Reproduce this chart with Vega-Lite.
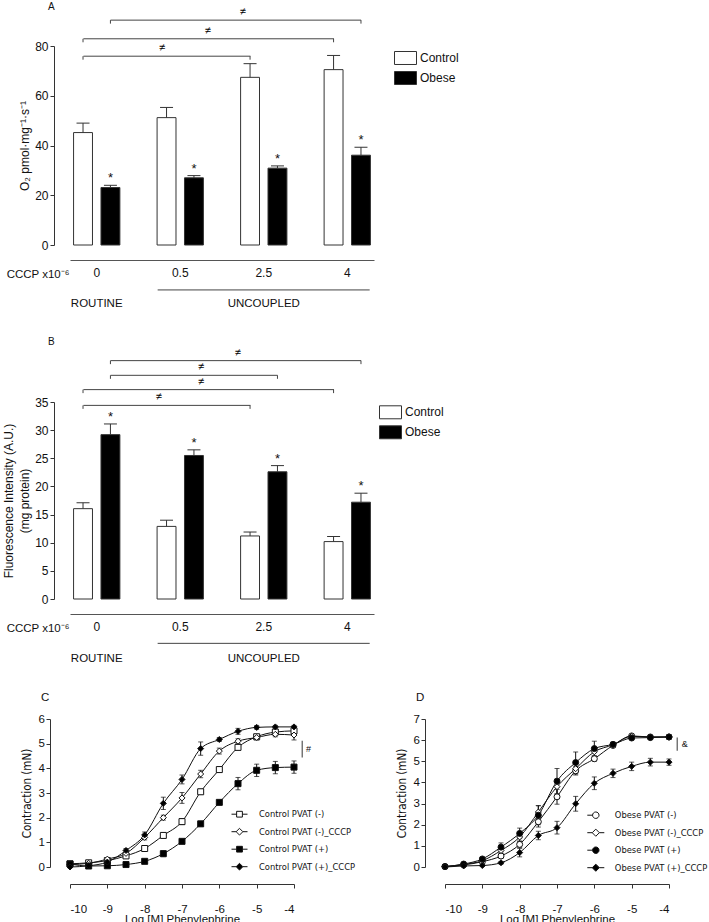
{
"$schema": "https://vega.github.io/schema/vega-lite/v6.json",
"padding": {"left": 2, "top": 2, "right": 0, "bottom": 1},
"datasets": {
"barsA": [
{"cccp":"0","group":"Control","mean":45.2,"hi":49.0},
{"cccp":"0","group":"Obese","mean":23.1,"hi":24.0},
{"cccp":"0.5","group":"Control","mean":51.2,"hi":55.3},
{"cccp":"0.5","group":"Obese","mean":27.0,"hi":27.9},
{"cccp":"2.5","group":"Control","mean":67.4,"hi":72.9},
{"cccp":"2.5","group":"Obese","mean":30.9,"hi":31.8},
{"cccp":"4","group":"Control","mean":70.5,"hi":76.2},
{"cccp":"4","group":"Obese","mean":36.1,"hi":39.3}
],
"barsB": [
{"cccp":"0","group":"Control","mean":16.05,"hi":17.1},
{"cccp":"0","group":"Obese","mean":29.2,"hi":31.1},
{"cccp":"0.5","group":"Control","mean":12.9,"hi":14.0},
{"cccp":"0.5","group":"Obese","mean":25.5,"hi":26.5},
{"cccp":"2.5","group":"Control","mean":11.2,"hi":11.9},
{"cccp":"2.5","group":"Obese","mean":22.6,"hi":23.7},
{"cccp":"4","group":"Control","mean":10.2,"hi":11.1},
{"cccp":"4","group":"Obese","mean":17.2,"hi":18.8}
],
"brA": [
{"from":"0","to":"2.5","side":"Control","level":75.9},
{"from":"0","to":"4","side":"Control","level":82.9},
{"from":"0","to":"4","side":"Obese","level":90.4}
],
"brB": [
{"from":"0","to":"2.5","side":"Control","level":34.4},
{"from":"0","to":"4","side":"Control","level":37.2},
{"from":"0","to":"2.5","side":"Obese","level":39.74},
{"from":"0","to":"4","side":"Obese","level":42.35}
],
"phase": [{"label":"ROUTINE","at":"0"},{"label":"UNCOUPLED","at":"2.5"}],
"curvesC": [
{"s":"Control PVAT (-)","x":-10,"y":0.13,"sem":0.05},
{"s":"Control PVAT (-)","x":-9.5,"y":0.17,"sem":0.04},
{"s":"Control PVAT (-)","x":-9,"y":0.26,"sem":0.05},
{"s":"Control PVAT (-)","x":-8.5,"y":0.45,"sem":0.05},
{"s":"Control PVAT (-)","x":-8,"y":0.75,"sem":0.06},
{"s":"Control PVAT (-)","x":-7.5,"y":1.28,"sem":0.1},
{"s":"Control PVAT (-)","x":-7,"y":1.84,"sem":0.12},
{"s":"Control PVAT (-)","x":-6.5,"y":3.05,"sem":0.1},
{"s":"Control PVAT (-)","x":-6,"y":3.95,"sem":0.1},
{"s":"Control PVAT (-)","x":-5.5,"y":4.85,"sem":0.1},
{"s":"Control PVAT (-)","x":-5,"y":5.28,"sem":0.1},
{"s":"Control PVAT (-)","x":-4.5,"y":5.47,"sem":0.1},
{"s":"Control PVAT (-)","x":-4,"y":5.52,"sem":0.12},
{"s":"Control PVAT (-)_CCCP","x":-10,"y":0.1,"sem":0.04},
{"s":"Control PVAT (-)_CCCP","x":-9.5,"y":0.15,"sem":0.04},
{"s":"Control PVAT (-)_CCCP","x":-9,"y":0.32,"sem":0.06},
{"s":"Control PVAT (-)_CCCP","x":-8.5,"y":0.55,"sem":0.06},
{"s":"Control PVAT (-)_CCCP","x":-8,"y":1.2,"sem":0.1},
{"s":"Control PVAT (-)_CCCP","x":-7.5,"y":2.0,"sem":0.1},
{"s":"Control PVAT (-)_CCCP","x":-7,"y":2.8,"sem":0.22},
{"s":"Control PVAT (-)_CCCP","x":-6.5,"y":3.77,"sem":0.15},
{"s":"Control PVAT (-)_CCCP","x":-6,"y":4.7,"sem":0.12},
{"s":"Control PVAT (-)_CCCP","x":-5.5,"y":5.1,"sem":0.1},
{"s":"Control PVAT (-)_CCCP","x":-5,"y":5.25,"sem":0.1},
{"s":"Control PVAT (-)_CCCP","x":-4.5,"y":5.38,"sem":0.1},
{"s":"Control PVAT (-)_CCCP","x":-4,"y":5.35,"sem":0.2},
{"s":"Control PVAT (+)","x":-10,"y":0.12,"sem":0.04},
{"s":"Control PVAT (+)","x":-9.5,"y":0.04,"sem":0.03},
{"s":"Control PVAT (+)","x":-9,"y":0.05,"sem":0.03},
{"s":"Control PVAT (+)","x":-8.5,"y":0.1,"sem":0.03},
{"s":"Control PVAT (+)","x":-8,"y":0.23,"sem":0.04},
{"s":"Control PVAT (+)","x":-7.5,"y":0.54,"sem":0.12},
{"s":"Control PVAT (+)","x":-7,"y":1.04,"sem":0.06},
{"s":"Control PVAT (+)","x":-6.5,"y":1.75,"sem":0.1},
{"s":"Control PVAT (+)","x":-6,"y":2.62,"sem":0.08},
{"s":"Control PVAT (+)","x":-5.5,"y":3.38,"sem":0.25},
{"s":"Control PVAT (+)","x":-5,"y":3.92,"sem":0.25},
{"s":"Control PVAT (+)","x":-4.5,"y":4.03,"sem":0.25},
{"s":"Control PVAT (+)","x":-4,"y":4.05,"sem":0.25},
{"s":"Control PVAT (+)_CCCP","x":-10,"y":0.0,"sem":0.03},
{"s":"Control PVAT (+)_CCCP","x":-9.5,"y":0.05,"sem":0.03},
{"s":"Control PVAT (+)_CCCP","x":-9,"y":0.2,"sem":0.04},
{"s":"Control PVAT (+)_CCCP","x":-8.5,"y":0.67,"sem":0.08},
{"s":"Control PVAT (+)_CCCP","x":-8,"y":1.3,"sem":0.12},
{"s":"Control PVAT (+)_CCCP","x":-7.5,"y":2.58,"sem":0.25},
{"s":"Control PVAT (+)_CCCP","x":-7,"y":3.55,"sem":0.18},
{"s":"Control PVAT (+)_CCCP","x":-6.5,"y":4.8,"sem":0.27},
{"s":"Control PVAT (+)_CCCP","x":-6,"y":5.17,"sem":0.08},
{"s":"Control PVAT (+)_CCCP","x":-5.5,"y":5.5,"sem":0.12},
{"s":"Control PVAT (+)_CCCP","x":-5,"y":5.66,"sem":0.08},
{"s":"Control PVAT (+)_CCCP","x":-4.5,"y":5.68,"sem":0.06},
{"s":"Control PVAT (+)_CCCP","x":-4,"y":5.68,"sem":0.06}
],
"curvesD": [
{"s":"Obese PVAT (-)","x":-10,"y":0.02,"sem":0.03},
{"s":"Obese PVAT (-)","x":-9.5,"y":0.1,"sem":0.04},
{"s":"Obese PVAT (-)","x":-9,"y":0.25,"sem":0.05},
{"s":"Obese PVAT (-)","x":-8.5,"y":0.52,"sem":0.1},
{"s":"Obese PVAT (-)","x":-8,"y":1.07,"sem":0.15},
{"s":"Obese PVAT (-)","x":-7.5,"y":2.14,"sem":0.25},
{"s":"Obese PVAT (-)","x":-7,"y":3.32,"sem":0.35},
{"s":"Obese PVAT (-)","x":-6.5,"y":4.55,"sem":0.2},
{"s":"Obese PVAT (-)","x":-6,"y":5.12,"sem":0.12},
{"s":"Obese PVAT (-)","x":-5.5,"y":5.75,"sem":0.1},
{"s":"Obese PVAT (-)","x":-5,"y":6.2,"sem":0.05},
{"s":"Obese PVAT (-)","x":-4.5,"y":6.15,"sem":0.05},
{"s":"Obese PVAT (-)","x":-4,"y":6.15,"sem":0.05},
{"s":"Obese PVAT (-)_CCCP","x":-10,"y":0.02,"sem":0.03},
{"s":"Obese PVAT (-)_CCCP","x":-9.5,"y":0.12,"sem":0.04},
{"s":"Obese PVAT (-)_CCCP","x":-9,"y":0.3,"sem":0.06},
{"s":"Obese PVAT (-)_CCCP","x":-8.5,"y":0.78,"sem":0.12},
{"s":"Obese PVAT (-)_CCCP","x":-8,"y":1.42,"sem":0.2},
{"s":"Obese PVAT (-)_CCCP","x":-7.5,"y":2.6,"sem":0.3},
{"s":"Obese PVAT (-)_CCCP","x":-7,"y":3.8,"sem":0.35},
{"s":"Obese PVAT (-)_CCCP","x":-6.5,"y":4.65,"sem":0.25},
{"s":"Obese PVAT (-)_CCCP","x":-6,"y":5.45,"sem":0.2},
{"s":"Obese PVAT (-)_CCCP","x":-5.5,"y":5.78,"sem":0.1},
{"s":"Obese PVAT (-)_CCCP","x":-5,"y":6.18,"sem":0.05},
{"s":"Obese PVAT (-)_CCCP","x":-4.5,"y":6.15,"sem":0.05},
{"s":"Obese PVAT (-)_CCCP","x":-4,"y":6.15,"sem":0.05},
{"s":"Obese PVAT (+)","x":-10,"y":0.02,"sem":0.03},
{"s":"Obese PVAT (+)","x":-9.5,"y":0.14,"sem":0.04},
{"s":"Obese PVAT (+)","x":-9,"y":0.38,"sem":0.06},
{"s":"Obese PVAT (+)","x":-8.5,"y":0.94,"sem":0.2},
{"s":"Obese PVAT (+)","x":-8,"y":1.59,"sem":0.25},
{"s":"Obese PVAT (+)","x":-7.5,"y":2.45,"sem":0.45},
{"s":"Obese PVAT (+)","x":-7,"y":4.06,"sem":0.6},
{"s":"Obese PVAT (+)","x":-6.5,"y":4.94,"sem":0.5},
{"s":"Obese PVAT (+)","x":-6,"y":5.6,"sem":0.35},
{"s":"Obese PVAT (+)","x":-5.5,"y":5.8,"sem":0.1},
{"s":"Obese PVAT (+)","x":-5,"y":6.1,"sem":0.06},
{"s":"Obese PVAT (+)","x":-4.5,"y":6.12,"sem":0.06},
{"s":"Obese PVAT (+)","x":-4,"y":6.15,"sem":0.1},
{"s":"Obese PVAT (+)_CCCP","x":-10,"y":0.0,"sem":0.03},
{"s":"Obese PVAT (+)_CCCP","x":-9.5,"y":0.05,"sem":0.03},
{"s":"Obese PVAT (+)_CCCP","x":-9,"y":0.07,"sem":0.04},
{"s":"Obese PVAT (+)_CCCP","x":-8.5,"y":0.2,"sem":0.06},
{"s":"Obese PVAT (+)_CCCP","x":-8,"y":0.68,"sem":0.2},
{"s":"Obese PVAT (+)_CCCP","x":-7.5,"y":1.49,"sem":0.2},
{"s":"Obese PVAT (+)_CCCP","x":-7,"y":1.86,"sem":0.3},
{"s":"Obese PVAT (+)_CCCP","x":-6.5,"y":2.99,"sem":0.35},
{"s":"Obese PVAT (+)_CCCP","x":-6,"y":3.96,"sem":0.3},
{"s":"Obese PVAT (+)_CCCP","x":-5.5,"y":4.43,"sem":0.2},
{"s":"Obese PVAT (+)_CCCP","x":-5,"y":4.76,"sem":0.2},
{"s":"Obese PVAT (+)_CCCP","x":-4.5,"y":4.96,"sem":0.18},
{"s":"Obese PVAT (+)_CCCP","x":-4,"y":4.96,"sem":0.15}
]
},
"concat": [
{
"width": 304, "height": 199,
"title": {"text": "A", "fontSize": 10, "dx": -22, "frame": "group", "offset": -6},
"layer": [
{"data": {"name": "barsA"}, "mark": {"type": "bar", "stroke": "#333", "strokeWidth": 1},
 "encoding": {
  "x": {"field": "cccp", "type": "nominal", "scale": {"domain": ["0","0.5","2.5","4"], "paddingInner": 0.36, "paddingOuter": 0},
        "axis": {"orient": "bottom", "offset": 15, "ticks": false, "tickSize": 0, "labelAngle": 0, "labelPadding": 7.5, "labelFontSize": 12, "domainColor": "#555", "title": "CCCP x10⁻⁶", "titleFontSize": 11.5, "titleX": -1, "titleY": 14.5, "titleAlign": "right", "titleBaseline": "middle", "titleAngle": 0}},
  "xOffset": {"field": "group", "type": "nominal", "scale": {"domain": ["Control","Obese"], "paddingInner": 0.31, "paddingOuter": 0.13}},
  "y": {"field": "mean", "type": "quantitative", "scale": {"domain": [0, 80], "nice": false},
        "axis": {"values": [0,20,40,60,80], "offset": 16, "tickSize": 4, "labelPadding": 2, "labelFontSize": 12, "title": "O₂ pmol·mg⁻¹·s⁻¹", "titleFontSize": 12, "titlePadding": 3}},
  "fill": {"field": "group", "type": "nominal", "scale": {"domain": ["Control","Obese"], "range": ["#ffffff","#000000"]},
        "legend": {"title": null, "orient": "none", "legendX": 324, "legendY": 0.5, "symbolType": "M-1,-0.59H1V0.59H-1Z", "symbolSize": 484, "symbolStrokeColor": "#333", "symbolStrokeWidth": 1, "symbolOpacity": 1, "labelFontSize": 12, "labelOffset": 3, "rowPadding": -2}}
 }},
{"data": {"name": "barsA"}, "mark": {"type": "rule", "color": "#333"},
 "encoding": {"x": {"field": "cccp", "type": "nominal", "axis": {"orient": "bottom", "offset": 15, "ticks": false, "tickSize": 0, "labelAngle": 0, "labelPadding": 7.5, "labelFontSize": 12, "domainColor": "#555", "title": "CCCP x10⁻⁶", "titleFontSize": 11.5, "titleX": -1, "titleY": 14.5, "titleAlign": "right", "titleBaseline": "middle", "titleAngle": 0}}, "xOffset": {"field": "group", "type": "nominal"}, "y": {"field": "mean", "type": "quantitative", "axis": {"values": [0,20,40,60,80], "offset": 16, "tickSize": 4, "labelPadding": 2, "labelFontSize": 12, "title": "O₂ pmol·mg⁻¹·s⁻¹", "titleFontSize": 12, "titlePadding": 3}}, "y2": {"field": "hi"}}},
{"data": {"name": "barsA"}, "mark": {"type": "tick", "orient": "horizontal", "size": 13, "thickness": 1, "color": "#333", "opacity": 1},
 "encoding": {"x": {"field": "cccp", "type": "nominal", "axis": {"orient": "bottom", "offset": 15, "ticks": false, "tickSize": 0, "labelAngle": 0, "labelPadding": 7.5, "labelFontSize": 12, "domainColor": "#555", "title": "CCCP x10⁻⁶", "titleFontSize": 11.5, "titleX": -1, "titleY": 14.5, "titleAlign": "right", "titleBaseline": "middle", "titleAngle": 0}}, "xOffset": {"field": "group", "type": "nominal"}, "y": {"field": "hi", "type": "quantitative", "axis": {"values": [0,20,40,60,80], "offset": 16, "tickSize": 4, "labelPadding": 2, "labelFontSize": 12, "title": "O₂ pmol·mg⁻¹·s⁻¹", "titleFontSize": 12, "titlePadding": 3}}}},
{"data": {"name": "barsA"}, "transform": [{"filter": "datum.group === 'Obese'"}], "mark": {"type": "text", "text": "*", "fontSize": 13, "baseline": "bottom", "color": "#111"},
 "encoding": {"x": {"field": "cccp", "type": "nominal", "axis": {"orient": "bottom", "offset": 15, "ticks": false, "tickSize": 0, "labelAngle": 0, "labelPadding": 7.5, "labelFontSize": 12, "domainColor": "#555", "title": "CCCP x10⁻⁶", "titleFontSize": 11.5, "titleX": -1, "titleY": 14.5, "titleAlign": "right", "titleBaseline": "middle", "titleAngle": 0}}, "xOffset": {"field": "group", "type": "nominal"}, "y": {"field": "hi", "type": "quantitative", "axis": {"values": [0,20,40,60,80], "offset": 16, "tickSize": 4, "labelPadding": 2, "labelFontSize": 12, "title": "O₂ pmol·mg⁻¹·s⁻¹", "titleFontSize": 12, "titlePadding": 3}}}},
{"data": {"name": "brA"}, "transform": [{"filter": "datum.side === 'Control'"}], "mark": {"type": "rule", "color": "#444", "xOffset": -13.3, "x2Offset": -13.3},
 "encoding": {"x": {"field": "from", "type": "nominal", "axis": {"orient": "bottom", "offset": 15, "ticks": false, "tickSize": 0, "labelAngle": 0, "labelPadding": 7.5, "labelFontSize": 12, "domainColor": "#555", "title": "CCCP x10⁻⁶", "titleFontSize": 11.5, "titleX": -1, "titleY": 14.5, "titleAlign": "right", "titleBaseline": "middle", "titleAngle": 0}}, "x2": {"field": "to"}, "y": {"field": "level", "type": "quantitative", "axis": {"values": [0,20,40,60,80], "offset": 16, "tickSize": 4, "labelPadding": 2, "labelFontSize": 12, "title": "O₂ pmol·mg⁻¹·s⁻¹", "titleFontSize": 12, "titlePadding": 3}}}},
{"data": {"name": "brA"}, "transform": [{"filter": "datum.side === 'Obese'"}], "mark": {"type": "rule", "color": "#444", "xOffset": 13.8, "x2Offset": 13.8},
 "encoding": {"x": {"field": "from", "type": "nominal", "axis": {"orient": "bottom", "offset": 15, "ticks": false, "tickSize": 0, "labelAngle": 0, "labelPadding": 7.5, "labelFontSize": 12, "domainColor": "#555", "title": "CCCP x10⁻⁶", "titleFontSize": 11.5, "titleX": -1, "titleY": 14.5, "titleAlign": "right", "titleBaseline": "middle", "titleAngle": 0}}, "x2": {"field": "to"}, "y": {"field": "level", "type": "quantitative", "axis": {"values": [0,20,40,60,80], "offset": 16, "tickSize": 4, "labelPadding": 2, "labelFontSize": 12, "title": "O₂ pmol·mg⁻¹·s⁻¹", "titleFontSize": 12, "titlePadding": 3}}}},
{"data": {"name": "brA"}, "transform": [{"fold": ["from","to"], "as": ["end","pos"]}], "mark": {"type": "rule", "color": "#444", "y2Offset": 3.5},
 "encoding": {"x": {"field": "pos", "type": "nominal", "axis": {"orient": "bottom", "offset": 15, "ticks": false, "tickSize": 0, "labelAngle": 0, "labelPadding": 7.5, "labelFontSize": 12, "domainColor": "#555", "title": "CCCP x10⁻⁶", "titleFontSize": 11.5, "titleX": -1, "titleY": 14.5, "titleAlign": "right", "titleBaseline": "middle", "titleAngle": 0}}, "xOffset": {"field": "side", "type": "nominal"}, "y": {"field": "level", "type": "quantitative", "axis": {"values": [0,20,40,60,80], "offset": 16, "tickSize": 4, "labelPadding": 2, "labelFontSize": 12, "title": "O₂ pmol·mg⁻¹·s⁻¹", "titleFontSize": 12, "titlePadding": 3}}, "y2": {"field": "level"}}},
{"data": {"values": [{}]}, "mark": {"type": "text", "text": "≠", "fontSize": 11, "baseline": "alphabetic", "yOffset": -5, "xOffset": -18.3},
 "encoding": {"x": {"datum": "0.5", "type": "nominal", "axis": {"orient": "bottom", "offset": 15, "ticks": false, "tickSize": 0, "labelAngle": 0, "labelPadding": 7.5, "labelFontSize": 12, "domainColor": "#555", "title": "CCCP x10⁻⁶", "titleFontSize": 11.5, "titleX": -1, "titleY": 14.5, "titleAlign": "right", "titleBaseline": "middle", "titleAngle": 0}}, "y": {"datum": 75.9, "type": "quantitative", "axis": {"values": [0,20,40,60,80], "offset": 16, "tickSize": 4, "labelPadding": 2, "labelFontSize": 12, "title": "O₂ pmol·mg⁻¹·s⁻¹", "titleFontSize": 12, "titlePadding": 3}}}},
{"data": {"values": [{}]}, "mark": {"type": "text", "text": "≠", "fontSize": 11, "baseline": "alphabetic", "yOffset": -5, "xOffset": 27.4},
 "encoding": {"x": {"datum": "0.5", "type": "nominal", "axis": {"orient": "bottom", "offset": 15, "ticks": false, "tickSize": 0, "labelAngle": 0, "labelPadding": 7.5, "labelFontSize": 12, "domainColor": "#555", "title": "CCCP x10⁻⁶", "titleFontSize": 11.5, "titleX": -1, "titleY": 14.5, "titleAlign": "right", "titleBaseline": "middle", "titleAngle": 0}}, "y": {"datum": 82.9, "type": "quantitative", "axis": {"values": [0,20,40,60,80], "offset": 16, "tickSize": 4, "labelPadding": 2, "labelFontSize": 12, "title": "O₂ pmol·mg⁻¹·s⁻¹", "titleFontSize": 12, "titlePadding": 3}}}},
{"data": {"values": [{}]}, "mark": {"type": "text", "text": "≠", "fontSize": 11, "baseline": "alphabetic", "yOffset": -5, "xOffset": -21},
 "encoding": {"x": {"datum": "2.5", "type": "nominal", "axis": {"orient": "bottom", "offset": 15, "ticks": false, "tickSize": 0, "labelAngle": 0, "labelPadding": 7.5, "labelFontSize": 12, "domainColor": "#555", "title": "CCCP x10⁻⁶", "titleFontSize": 11.5, "titleX": -1, "titleY": 14.5, "titleAlign": "right", "titleBaseline": "middle", "titleAngle": 0}}, "y": {"datum": 90.4, "type": "quantitative", "axis": {"values": [0,20,40,60,80], "offset": 16, "tickSize": 4, "labelPadding": 2, "labelFontSize": 12, "title": "O₂ pmol·mg⁻¹·s⁻¹", "titleFontSize": 12, "titlePadding": 3}}}},
{"data": {"values": [{}]}, "mark": {"type": "rule", "color": "#444", "xOffset": -22.6, "x2Offset": 22.4},
 "encoding": {"x": {"datum": "0.5", "type": "nominal", "axis": {"orient": "bottom", "offset": 15, "ticks": false, "tickSize": 0, "labelAngle": 0, "labelPadding": 7.5, "labelFontSize": 12, "domainColor": "#555", "title": "CCCP x10⁻⁶", "titleFontSize": 11.5, "titleX": -1, "titleY": 14.5, "titleAlign": "right", "titleBaseline": "middle", "titleAngle": 0}}, "x2": {"datum": "4"}, "y": {"datum": -18.06, "type": "quantitative", "axis": {"values": [0,20,40,60,80], "offset": 16, "tickSize": 4, "labelPadding": 2, "labelFontSize": 12, "title": "O₂ pmol·mg⁻¹·s⁻¹", "titleFontSize": 12, "titlePadding": 3}}}},
{"data": {"name": "phase"}, "mark": {"type": "text", "fontSize": 11.5, "baseline": "middle", "color": "#111"},
 "encoding": {"x": {"field": "at", "type": "nominal", "axis": {"orient": "bottom", "offset": 15, "ticks": false, "tickSize": 0, "labelAngle": 0, "labelPadding": 7.5, "labelFontSize": 12, "domainColor": "#555", "title": "CCCP x10⁻⁶", "titleFontSize": 11.5, "titleX": -1, "titleY": 14.5, "titleAlign": "right", "titleBaseline": "middle", "titleAngle": 0}}, "y": {"datum": -23.7, "type": "quantitative", "axis": {"values": [0,20,40,60,80], "offset": 16, "tickSize": 4, "labelPadding": 2, "labelFontSize": 12, "title": "O₂ pmol·mg⁻¹·s⁻¹", "titleFontSize": 12, "titlePadding": 3}}, "text": {"field": "label"}}}
]
},
{
"width": 304, "height": 197,
"title": {"text": "B", "fontSize": 10, "dx": -22, "frame": "group", "offset": 0},
"layer": [
{"data": {"name": "barsB"}, "mark": {"type": "bar", "stroke": "#333", "strokeWidth": 1},
 "encoding": {
  "x": {"field": "cccp", "type": "nominal", "scale": {"domain": ["0","0.5","2.5","4"], "paddingInner": 0.36, "paddingOuter": 0},
        "axis": {"orient": "bottom", "offset": 15, "ticks": false, "tickSize": 0, "labelAngle": 0, "labelPadding": 7.5, "labelFontSize": 12, "domainColor": "#555", "title": "CCCP x10⁻⁶", "titleFontSize": 11.5, "titleX": -1, "titleY": 14.5, "titleAlign": "right", "titleBaseline": "middle", "titleAngle": 0}},
  "xOffset": {"field": "group", "type": "nominal", "scale": {"domain": ["Control","Obese"], "paddingInner": 0.31, "paddingOuter": 0.13}},
  "y": {"field": "mean", "type": "quantitative", "scale": {"domain": [0, 35], "nice": false},
        "axis": {"values": [0,5,10,15,20,25,30,35], "offset": 16, "tickSize": 4, "labelPadding": 2, "labelFontSize": 12, "title": ["Fluorescence Intensity (A.U.)", "(mg protein)"], "titleFontSize": 12, "titleLineHeight": 16, "titlePadding": 3}},
  "fill": {"field": "group", "type": "nominal", "scale": {"domain": ["Control","Obese"], "range": ["#ffffff","#000000"]},
        "legend": {"title": null, "orient": "none", "legendX": 309, "legendY": -1.2, "symbolType": "M-1,-0.59H1V0.59H-1Z", "symbolSize": 484, "symbolStrokeColor": "#333", "symbolStrokeWidth": 1, "symbolOpacity": 1, "labelFontSize": 12, "labelOffset": 3, "rowPadding": -2}}
 }},
{"data": {"name": "barsB"}, "mark": {"type": "rule", "color": "#333"},
 "encoding": {"x": {"field": "cccp", "type": "nominal", "axis": {"orient": "bottom", "offset": 15, "ticks": false, "tickSize": 0, "labelAngle": 0, "labelPadding": 7.5, "labelFontSize": 12, "domainColor": "#555", "title": "CCCP x10⁻⁶", "titleFontSize": 11.5, "titleX": -1, "titleY": 14.5, "titleAlign": "right", "titleBaseline": "middle", "titleAngle": 0}}, "xOffset": {"field": "group", "type": "nominal"}, "y": {"field": "mean", "type": "quantitative", "axis": {"values": [0,5,10,15,20,25,30,35], "offset": 16, "tickSize": 4, "labelPadding": 2, "labelFontSize": 12, "title": ["Fluorescence Intensity (A.U.)", "(mg protein)"], "titleFontSize": 12, "titleLineHeight": 16, "titlePadding": 3}}, "y2": {"field": "hi"}}},
{"data": {"name": "barsB"}, "mark": {"type": "tick", "orient": "horizontal", "size": 13, "thickness": 1, "color": "#333", "opacity": 1},
 "encoding": {"x": {"field": "cccp", "type": "nominal", "axis": {"orient": "bottom", "offset": 15, "ticks": false, "tickSize": 0, "labelAngle": 0, "labelPadding": 7.5, "labelFontSize": 12, "domainColor": "#555", "title": "CCCP x10⁻⁶", "titleFontSize": 11.5, "titleX": -1, "titleY": 14.5, "titleAlign": "right", "titleBaseline": "middle", "titleAngle": 0}}, "xOffset": {"field": "group", "type": "nominal"}, "y": {"field": "hi", "type": "quantitative", "axis": {"values": [0,5,10,15,20,25,30,35], "offset": 16, "tickSize": 4, "labelPadding": 2, "labelFontSize": 12, "title": ["Fluorescence Intensity (A.U.)", "(mg protein)"], "titleFontSize": 12, "titleLineHeight": 16, "titlePadding": 3}}}},
{"data": {"name": "barsB"}, "transform": [{"filter": "datum.group === 'Obese'"}], "mark": {"type": "text", "text": "*", "fontSize": 13, "baseline": "bottom", "color": "#111"},
 "encoding": {"x": {"field": "cccp", "type": "nominal", "axis": {"orient": "bottom", "offset": 15, "ticks": false, "tickSize": 0, "labelAngle": 0, "labelPadding": 7.5, "labelFontSize": 12, "domainColor": "#555", "title": "CCCP x10⁻⁶", "titleFontSize": 11.5, "titleX": -1, "titleY": 14.5, "titleAlign": "right", "titleBaseline": "middle", "titleAngle": 0}}, "xOffset": {"field": "group", "type": "nominal"}, "y": {"field": "hi", "type": "quantitative", "axis": {"values": [0,5,10,15,20,25,30,35], "offset": 16, "tickSize": 4, "labelPadding": 2, "labelFontSize": 12, "title": ["Fluorescence Intensity (A.U.)", "(mg protein)"], "titleFontSize": 12, "titleLineHeight": 16, "titlePadding": 3}}}},
{"data": {"name": "brB"}, "transform": [{"filter": "datum.side === 'Control'"}], "mark": {"type": "rule", "color": "#444", "xOffset": -13.3, "x2Offset": -13.3},
 "encoding": {"x": {"field": "from", "type": "nominal", "axis": {"orient": "bottom", "offset": 15, "ticks": false, "tickSize": 0, "labelAngle": 0, "labelPadding": 7.5, "labelFontSize": 12, "domainColor": "#555", "title": "CCCP x10⁻⁶", "titleFontSize": 11.5, "titleX": -1, "titleY": 14.5, "titleAlign": "right", "titleBaseline": "middle", "titleAngle": 0}}, "x2": {"field": "to"}, "y": {"field": "level", "type": "quantitative", "axis": {"values": [0,5,10,15,20,25,30,35], "offset": 16, "tickSize": 4, "labelPadding": 2, "labelFontSize": 12, "title": ["Fluorescence Intensity (A.U.)", "(mg protein)"], "titleFontSize": 12, "titleLineHeight": 16, "titlePadding": 3}}}},
{"data": {"name": "brB"}, "transform": [{"filter": "datum.side === 'Obese'"}], "mark": {"type": "rule", "color": "#444", "xOffset": 13.8, "x2Offset": 13.8},
 "encoding": {"x": {"field": "from", "type": "nominal", "axis": {"orient": "bottom", "offset": 15, "ticks": false, "tickSize": 0, "labelAngle": 0, "labelPadding": 7.5, "labelFontSize": 12, "domainColor": "#555", "title": "CCCP x10⁻⁶", "titleFontSize": 11.5, "titleX": -1, "titleY": 14.5, "titleAlign": "right", "titleBaseline": "middle", "titleAngle": 0}}, "x2": {"field": "to"}, "y": {"field": "level", "type": "quantitative", "axis": {"values": [0,5,10,15,20,25,30,35], "offset": 16, "tickSize": 4, "labelPadding": 2, "labelFontSize": 12, "title": ["Fluorescence Intensity (A.U.)", "(mg protein)"], "titleFontSize": 12, "titleLineHeight": 16, "titlePadding": 3}}}},
{"data": {"name": "brB"}, "transform": [{"fold": ["from","to"], "as": ["end","pos"]}], "mark": {"type": "rule", "color": "#444", "y2Offset": 3.5},
 "encoding": {"x": {"field": "pos", "type": "nominal", "axis": {"orient": "bottom", "offset": 15, "ticks": false, "tickSize": 0, "labelAngle": 0, "labelPadding": 7.5, "labelFontSize": 12, "domainColor": "#555", "title": "CCCP x10⁻⁶", "titleFontSize": 11.5, "titleX": -1, "titleY": 14.5, "titleAlign": "right", "titleBaseline": "middle", "titleAngle": 0}}, "xOffset": {"field": "side", "type": "nominal"}, "y": {"field": "level", "type": "quantitative", "axis": {"values": [0,5,10,15,20,25,30,35], "offset": 16, "tickSize": 4, "labelPadding": 2, "labelFontSize": 12, "title": ["Fluorescence Intensity (A.U.)", "(mg protein)"], "titleFontSize": 12, "titleLineHeight": 16, "titlePadding": 3}}, "y2": {"field": "level"}}},
{"data": {"values": [{}]}, "mark": {"type": "text", "text": "≠", "fontSize": 11, "baseline": "alphabetic", "yOffset": -5, "xOffset": -21.6},
 "encoding": {"x": {"datum": "0.5", "type": "nominal", "axis": {"orient": "bottom", "offset": 15, "ticks": false, "tickSize": 0, "labelAngle": 0, "labelPadding": 7.5, "labelFontSize": 12, "domainColor": "#555", "title": "CCCP x10⁻⁶", "titleFontSize": 11.5, "titleX": -1, "titleY": 14.5, "titleAlign": "right", "titleBaseline": "middle", "titleAngle": 0}}, "y": {"datum": 34.4, "type": "quantitative", "axis": {"values": [0,5,10,15,20,25,30,35], "offset": 16, "tickSize": 4, "labelPadding": 2, "labelFontSize": 12, "title": ["Fluorescence Intensity (A.U.)", "(mg protein)"], "titleFontSize": 12, "titleLineHeight": 16, "titlePadding": 3}}}},
{"data": {"values": [{}]}, "mark": {"type": "text", "text": "≠", "fontSize": 11, "baseline": "alphabetic", "yOffset": -5, "xOffset": 20.7},
 "encoding": {"x": {"datum": "0.5", "type": "nominal", "axis": {"orient": "bottom", "offset": 15, "ticks": false, "tickSize": 0, "labelAngle": 0, "labelPadding": 7.5, "labelFontSize": 12, "domainColor": "#555", "title": "CCCP x10⁻⁶", "titleFontSize": 11.5, "titleX": -1, "titleY": 14.5, "titleAlign": "right", "titleBaseline": "middle", "titleAngle": 0}}, "y": {"datum": 37.2, "type": "quantitative", "axis": {"values": [0,5,10,15,20,25,30,35], "offset": 16, "tickSize": 4, "labelPadding": 2, "labelFontSize": 12, "title": ["Fluorescence Intensity (A.U.)", "(mg protein)"], "titleFontSize": 12, "titleLineHeight": 16, "titlePadding": 3}}}},
{"data": {"values": [{}]}, "mark": {"type": "text", "text": "≠", "fontSize": 11, "baseline": "alphabetic", "yOffset": -5, "xOffset": 20.7},
 "encoding": {"x": {"datum": "0.5", "type": "nominal", "axis": {"orient": "bottom", "offset": 15, "ticks": false, "tickSize": 0, "labelAngle": 0, "labelPadding": 7.5, "labelFontSize": 12, "domainColor": "#555", "title": "CCCP x10⁻⁶", "titleFontSize": 11.5, "titleX": -1, "titleY": 14.5, "titleAlign": "right", "titleBaseline": "middle", "titleAngle": 0}}, "y": {"datum": 39.74, "type": "quantitative", "axis": {"values": [0,5,10,15,20,25,30,35], "offset": 16, "tickSize": 4, "labelPadding": 2, "labelFontSize": 12, "title": ["Fluorescence Intensity (A.U.)", "(mg protein)"], "titleFontSize": 12, "titleLineHeight": 16, "titlePadding": 3}}}},
{"data": {"values": [{}]}, "mark": {"type": "text", "text": "≠", "fontSize": 11, "baseline": "alphabetic", "yOffset": -5, "xOffset": -26},
 "encoding": {"x": {"datum": "2.5", "type": "nominal", "axis": {"orient": "bottom", "offset": 15, "ticks": false, "tickSize": 0, "labelAngle": 0, "labelPadding": 7.5, "labelFontSize": 12, "domainColor": "#555", "title": "CCCP x10⁻⁶", "titleFontSize": 11.5, "titleX": -1, "titleY": 14.5, "titleAlign": "right", "titleBaseline": "middle", "titleAngle": 0}}, "y": {"datum": 42.35, "type": "quantitative", "axis": {"values": [0,5,10,15,20,25,30,35], "offset": 16, "tickSize": 4, "labelPadding": 2, "labelFontSize": 12, "title": ["Fluorescence Intensity (A.U.)", "(mg protein)"], "titleFontSize": 12, "titleLineHeight": 16, "titlePadding": 3}}}},
{"data": {"values": [{}]}, "mark": {"type": "rule", "color": "#444", "xOffset": -22.6, "x2Offset": 22.4},
 "encoding": {"x": {"datum": "0.5", "type": "nominal", "axis": {"orient": "bottom", "offset": 15, "ticks": false, "tickSize": 0, "labelAngle": 0, "labelPadding": 7.5, "labelFontSize": 12, "domainColor": "#555", "title": "CCCP x10⁻⁶", "titleFontSize": 11.5, "titleX": -1, "titleY": 14.5, "titleAlign": "right", "titleBaseline": "middle", "titleAngle": 0}}, "x2": {"datum": "4"}, "y": {"datum": -7.88, "type": "quantitative", "axis": {"values": [0,5,10,15,20,25,30,35], "offset": 16, "tickSize": 4, "labelPadding": 2, "labelFontSize": 12, "title": ["Fluorescence Intensity (A.U.)", "(mg protein)"], "titleFontSize": 12, "titleLineHeight": 16, "titlePadding": 3}}}},
{"data": {"name": "phase"}, "mark": {"type": "text", "fontSize": 11.5, "baseline": "middle", "color": "#111"},
 "encoding": {"x": {"field": "at", "type": "nominal", "axis": {"orient": "bottom", "offset": 15, "ticks": false, "tickSize": 0, "labelAngle": 0, "labelPadding": 7.5, "labelFontSize": 12, "domainColor": "#555", "title": "CCCP x10⁻⁶", "titleFontSize": 11.5, "titleX": -1, "titleY": 14.5, "titleAlign": "right", "titleBaseline": "middle", "titleAngle": 0}}, "y": {"datum": -10.6, "type": "quantitative", "axis": {"values": [0,5,10,15,20,25,30,35], "offset": 16, "tickSize": 4, "labelPadding": 2, "labelFontSize": 12, "title": ["Fluorescence Intensity (A.U.)", "(mg protein)"], "titleFontSize": 12, "titleLineHeight": 16, "titlePadding": 3}}, "text": {"field": "label"}}}
]
},
{
"hconcat": [
{
"width": 224, "height": 148,
"title": {"text": "C", "fontSize": 11.5, "dx": -29, "frame": "group", "offset": 10},
"data": {"name": "curvesC"},
"layer": [
{"mark": {"type": "line", "interpolate": "monotone", "color": "#111", "strokeWidth": 1},
 "encoding": {
  "x": {"field": "x", "type": "quantitative", "scale": {"domain": [-10, -4], "nice": false, "zero": false},
        "axis": {"values": [-10,-9,-8,-7,-6,-5,-4], "labelExpr": "'' + datum.value", "offset": 17, "tickSize": 4, "labelPadding": 15, "labelFontSize": 11.5, "title": "Log [M] Phenylephrine", "titleFontSize": 11.5, "titlePadding": -1}},
  "y": {"field": "y", "type": "quantitative", "scale": {"domain": [0, 6], "nice": false},
        "axis": {"values": [0,1,2,3,4,5,6], "offset": 20, "tickSize": 4, "labelPadding": 1.5, "labelFontSize": 11.5, "title": "Contraction (mN)", "titleFont": "Liberation Sans Narrow, DejaVu Sans Condensed, sans-serif", "titleFontSize": 11.5, "titlePadding": 6}},
  "detail": {"field": "s"}}},
{"mark": {"type": "errorbar", "ticks": {"size": 5}, "color": "#111"},
 "encoding": {
  "x": {"field": "x", "type": "quantitative", "axis": {"values": [-10,-9,-8,-7,-6,-5,-4], "labelExpr": "'' + datum.value", "offset": 17, "tickSize": 4, "labelPadding": 15, "labelFontSize": 11.5, "title": "Log [M] Phenylephrine", "titleFontSize": 11.5, "titlePadding": -1}},
  "y": {"field": "y", "type": "quantitative", "axis": {"values": [0,1,2,3,4,5,6], "offset": 20, "tickSize": 4, "labelPadding": 1.5, "labelFontSize": 11.5, "title": "Contraction (mN)", "titleFont": "Liberation Sans Narrow, DejaVu Sans Condensed, sans-serif", "titleFontSize": 11.5, "titlePadding": 6}},
  "yError": {"field": "sem"}}},
{"mark": {"type": "point", "filled": true, "stroke": "#111", "strokeWidth": 1, "size": 36, "opacity": 1},
 "encoding": {
  "x": {"field": "x", "type": "quantitative", "axis": {"values": [-10,-9,-8,-7,-6,-5,-4], "labelExpr": "'' + datum.value", "offset": 17, "tickSize": 4, "labelPadding": 15, "labelFontSize": 11.5, "title": "Log [M] Phenylephrine", "titleFontSize": 11.5, "titlePadding": -1}},
  "y": {"field": "y", "type": "quantitative", "axis": {"values": [0,1,2,3,4,5,6], "offset": 20, "tickSize": 4, "labelPadding": 1.5, "labelFontSize": 11.5, "title": "Contraction (mN)", "titleFont": "Liberation Sans Narrow, DejaVu Sans Condensed, sans-serif", "titleFontSize": 11.5, "titlePadding": 6}},
  "shape": {"field": "s", "type": "nominal", "scale": {"domain": ["Control PVAT (+)","Control PVAT (+)_CCCP","Control PVAT (-)","Control PVAT (-)_CCCP"], "range": ["square","diamond","square","diamond"]}, "legend": null},
  "fill": {"field": "s", "type": "nominal", "scale": {"domain": ["Control PVAT (-)","Control PVAT (-)_CCCP","Control PVAT (+)","Control PVAT (+)_CCCP"], "range": ["#ffffff","#ffffff","#000000","#000000"]},
           "legend": {"title": null, "orient": "none", "legendX": 161, "legendY": 86.7, "symbolSize": 256, "rowPadding": 3.5, "labelOffset": 11, "labelFontSize": 9.3, "labelFont": "Liberation Sans Narrow, DejaVu Sans Condensed, sans-serif", "symbolStrokeColor": "#111", "symbolStrokeWidth": 1, "symbolOpacity": 1,
                      "encode": {"symbols": {"update": {"shape": {"signal": "indexof(datum.value, 'CCCP') >= 0 ? 'M-1,0H-0.42M0.42,0H1M0,-0.42L0.42,0L0,0.42L-0.42,0Z' : 'M-1,0H-0.36M0.36,0H1M-0.36,-0.36H0.36V0.36H-0.36Z'"}, "stroke": {"value": "#111"}, "strokeWidth": {"value": 1}}}}}}
 }},
{"data": {"values": [{}]}, "mark": {"type": "rule", "color": "#555", "strokeWidth": 1.2},
 "encoding": {"x": {"datum": -3.78, "type": "quantitative", "axis": {"values": [-10,-9,-8,-7,-6,-5,-4], "labelExpr": "'' + datum.value", "offset": 17, "tickSize": 4, "labelPadding": 15, "labelFontSize": 11.5, "title": "Log [M] Phenylephrine", "titleFontSize": 11.5, "titlePadding": -1}}, "y": {"datum": 5.12, "type": "quantitative", "axis": {"values": [0,1,2,3,4,5,6], "offset": 20, "tickSize": 4, "labelPadding": 1.5, "labelFontSize": 11.5, "title": "Contraction (mN)", "titleFont": "Liberation Sans Narrow, DejaVu Sans Condensed, sans-serif", "titleFontSize": 11.5, "titlePadding": 6}}, "y2": {"datum": 4.44}}},
{"data": {"values": [{}]}, "mark": {"type": "text", "text": "#", "fontSize": 9, "align": "left", "baseline": "middle", "color": "#111"},
 "encoding": {"x": {"datum": -3.68, "type": "quantitative", "axis": {"values": [-10,-9,-8,-7,-6,-5,-4], "labelExpr": "'' + datum.value", "offset": 17, "tickSize": 4, "labelPadding": 15, "labelFontSize": 11.5, "title": "Log [M] Phenylephrine", "titleFontSize": 11.5, "titlePadding": -1}}, "y": {"datum": 4.8, "type": "quantitative", "axis": {"values": [0,1,2,3,4,5,6], "offset": 20, "tickSize": 4, "labelPadding": 1.5, "labelFontSize": 11.5, "title": "Contraction (mN)", "titleFont": "Liberation Sans Narrow, DejaVu Sans Condensed, sans-serif", "titleFontSize": 11.5, "titlePadding": 6}}}}
]
},
{
"width": 224, "height": 148,
"title": {"text": "D", "fontSize": 11.5, "dx": -29, "frame": "group", "offset": 10},
"data": {"name": "curvesD"},
"layer": [
{"mark": {"type": "line", "interpolate": "monotone", "color": "#111", "strokeWidth": 1},
 "encoding": {
  "x": {"field": "x", "type": "quantitative", "scale": {"domain": [-10, -4], "nice": false, "zero": false},
        "axis": {"values": [-10,-9,-8,-7,-6,-5,-4], "labelExpr": "'' + datum.value", "offset": 17, "tickSize": 4, "labelPadding": 15, "labelFontSize": 11.5, "title": "Log [M] Phenylephrine", "titleFontSize": 11.5, "titlePadding": -1}},
  "y": {"field": "y", "type": "quantitative", "scale": {"domain": [0, 7], "nice": false},
        "axis": {"values": [0,1,2,3,4,5,6,7], "offset": 20, "tickSize": 4, "labelPadding": 1.5, "labelFontSize": 11.5, "title": "Contraction (mN)", "titleFont": "Liberation Sans Narrow, DejaVu Sans Condensed, sans-serif", "titleFontSize": 11.5, "titlePadding": 6}},
  "detail": {"field": "s"}}},
{"mark": {"type": "errorbar", "ticks": {"size": 5}, "color": "#111"},
 "encoding": {
  "x": {"field": "x", "type": "quantitative", "axis": {"values": [-10,-9,-8,-7,-6,-5,-4], "labelExpr": "'' + datum.value", "offset": 17, "tickSize": 4, "labelPadding": 15, "labelFontSize": 11.5, "title": "Log [M] Phenylephrine", "titleFontSize": 11.5, "titlePadding": -1}},
  "y": {"field": "y", "type": "quantitative", "axis": {"values": [0,1,2,3,4,5,6,7], "offset": 20, "tickSize": 4, "labelPadding": 1.5, "labelFontSize": 11.5, "title": "Contraction (mN)", "titleFont": "Liberation Sans Narrow, DejaVu Sans Condensed, sans-serif", "titleFontSize": 11.5, "titlePadding": 6}},
  "yError": {"field": "sem"}}},
{"mark": {"type": "point", "filled": true, "stroke": "#111", "strokeWidth": 1, "size": 36, "opacity": 1},
 "encoding": {
  "x": {"field": "x", "type": "quantitative", "axis": {"values": [-10,-9,-8,-7,-6,-5,-4], "labelExpr": "'' + datum.value", "offset": 17, "tickSize": 4, "labelPadding": 15, "labelFontSize": 11.5, "title": "Log [M] Phenylephrine", "titleFontSize": 11.5, "titlePadding": -1}},
  "y": {"field": "y", "type": "quantitative", "axis": {"values": [0,1,2,3,4,5,6,7], "offset": 20, "tickSize": 4, "labelPadding": 1.5, "labelFontSize": 11.5, "title": "Contraction (mN)", "titleFont": "Liberation Sans Narrow, DejaVu Sans Condensed, sans-serif", "titleFontSize": 11.5, "titlePadding": 6}},
  "shape": {"field": "s", "type": "nominal", "scale": {"domain": ["Obese PVAT (+)","Obese PVAT (+)_CCCP","Obese PVAT (-)","Obese PVAT (-)_CCCP"], "range": ["circle","diamond","circle","diamond"]}, "legend": null},
  "fill": {"field": "s", "type": "nominal", "scale": {"domain": ["Obese PVAT (-)","Obese PVAT (-)_CCCP","Obese PVAT (+)","Obese PVAT (+)_CCCP"], "range": ["#ffffff","#ffffff","#000000","#000000"]},
           "legend": {"title": null, "orient": "none", "legendX": 141.8, "legendY": 87.2, "symbolSize": 289, "rowPadding": 2.5, "labelOffset": 10, "labelFontSize": 9.3, "labelFont": "Liberation Sans Narrow, DejaVu Sans Condensed, sans-serif", "symbolStrokeColor": "#111", "symbolStrokeWidth": 1, "symbolOpacity": 1,
                      "encode": {"symbols": {"update": {"shape": {"signal": "indexof(datum.value, 'CCCP') >= 0 ? 'M-1,0H-0.42M0.42,0H1M0,-0.42L0.42,0L0,0.42L-0.42,0Z' : 'M-1,0H-0.38M0.38,0A0.38,0.38,0,1,1,-0.38,0A0.38,0.38,0,1,1,0.38,0Z'"}, "stroke": {"value": "#111"}, "strokeWidth": {"value": 1}}}}}}
 }},
{"data": {"values": [{}]}, "mark": {"type": "rule", "color": "#555", "strokeWidth": 1.2},
 "encoding": {"x": {"datum": -3.78, "type": "quantitative", "axis": {"values": [-10,-9,-8,-7,-6,-5,-4], "labelExpr": "'' + datum.value", "offset": 17, "tickSize": 4, "labelPadding": 15, "labelFontSize": 11.5, "title": "Log [M] Phenylephrine", "titleFontSize": 11.5, "titlePadding": -1}}, "y": {"datum": 6.12, "type": "quantitative", "axis": {"values": [0,1,2,3,4,5,6,7], "offset": 20, "tickSize": 4, "labelPadding": 1.5, "labelFontSize": 11.5, "title": "Contraction (mN)", "titleFont": "Liberation Sans Narrow, DejaVu Sans Condensed, sans-serif", "titleFontSize": 11.5, "titlePadding": 6}}, "y2": {"datum": 5.5}}},
{"data": {"values": [{}]}, "mark": {"type": "text", "text": "&", "fontSize": 9, "align": "left", "baseline": "middle", "color": "#111"},
 "encoding": {"x": {"datum": -3.66, "type": "quantitative", "axis": {"values": [-10,-9,-8,-7,-6,-5,-4], "labelExpr": "'' + datum.value", "offset": 17, "tickSize": 4, "labelPadding": 15, "labelFontSize": 11.5, "title": "Log [M] Phenylephrine", "titleFontSize": 11.5, "titlePadding": -1}}, "y": {"datum": 5.8, "type": "quantitative", "axis": {"values": [0,1,2,3,4,5,6,7], "offset": 20, "tickSize": 4, "labelPadding": 1.5, "labelFontSize": 11.5, "title": "Contraction (mN)", "titleFont": "Liberation Sans Narrow, DejaVu Sans Condensed, sans-serif", "titleFontSize": 11.5, "titlePadding": 6}}}}
]
}
],
"spacing": 40,
"resolve": {"scale": {"x": "independent", "y": "independent", "fill": "independent", "shape": "independent"}, "legend": {"fill": "independent", "shape": "independent"}}
}
],
"columns": 1,
"align": "none",
"spacing": 26,
"resolve": {"scale": {"x": "independent", "y": "independent", "fill": "independent", "xOffset": "independent"}, "legend": {"fill": "independent"}},
"config": {
  "font": "Liberation Sans",
  "view": {"stroke": null},
  "axis": {"grid": false, "domainColor": "#333", "tickColor": "#333", "labelColor": "#111", "titleColor": "#111", "titleFontWeight": "normal", "labelFont": "Liberation Sans", "titleFont": "Liberation Sans"},
  "title": {"fontWeight": "normal", "anchor": "start", "color": "#111", "font": "Liberation Sans"},
  "legend": {"labelFont": "Liberation Sans", "labelColor": "#111"},
  "text": {"font": "Liberation Sans"}
}
}
